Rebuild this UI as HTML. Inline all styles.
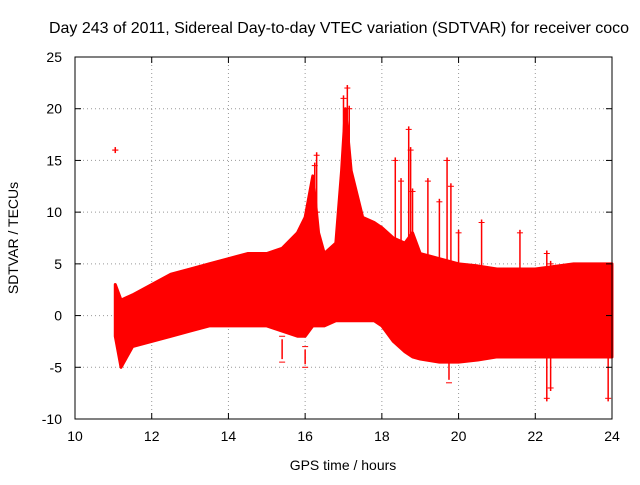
<!DOCTYPE html>
<html><head><meta charset="utf-8"><style>
body{margin:0;background:#fff}
svg text{font-family:"Liberation Sans",sans-serif;font-size:14px;fill:#000}
</style></head><body>
<svg width="640" height="480" id="c">
<text x="339" y="33" text-anchor="middle" style="font-size:16px">Day 243 of 2011, Sidereal Day-to-day VTEC variation (SDTVAR) for receiver coco</text>
<text x="343" y="470" text-anchor="middle">GPS time / hours</text>
<text transform="translate(18,238) rotate(-90)" text-anchor="middle">SDTVAR / TECUs</text>
<g id="grid"></g><g id="data"></g><g id="ticks"></g>
<rect x="75" y="57" width="537" height="362" fill="none" stroke="#000"/>
</svg>
<script>
const xTicks=[10,12,14,16,18,20,22,24];
const yTicks=[-10,-5,0,5,10,15,20,25];
const hours=[11.05,11.2,11.5,12,12.5,13,13.5,14,14.5,15,15.4,15.8,16,16.2,16.35,16.5,16.8,16.95,17.05,17.2,17.5,17.8,18,18.3,18.6,18.8,19,19.5,20,20.5,21,22,23,24];
const upper=[3,1.5,2,3,4,4.5,5,5.5,6,6,6.5,8,9.5,13.5,8,6,7,14,20,14,9.5,9,8.5,7.5,7,8,6,5.5,5,4.8,4.5,4.5,5,5];
const lower=[-2,-5,-3,-2.5,-2,-1.5,-1,-1,-1,-1,-1.5,-2,-2,-1,-1,-1,-0.5,-0.5,-0.5,-0.5,-0.5,-0.5,-1,-2.5,-3.5,-4,-4.2,-4.5,-4.5,-4.3,-4,-4,-4,-4];
const spikeX=[11.05,16.25,16.3,17.0,17.1,17.15,18.35,18.5,18.7,18.75,18.8,19.2,19.5,19.7,19.8,20.0,20.6,21.6,22.3,22.4,23.9,15.4,16.0,19.75];
const spikeTop=[16,14.5,15.5,21,22,20,15,13,18,16,12,13,11,15,12.5,8,9,8,6,5,4,-4.5,-5,-6.5];
const spikeBot=[16,9,10,12,14,13,6,6,6,7,6,5,4,5,5,3,1,-2,-8,-7,-8,-2,-3,-4];
const X=v=>75+(v-10)*537/14, Y=v=>419-(v+10)*362/35;
const ns="http://www.w3.org/2000/svg";
function mk(p,t,a){const e=document.createElementNS(ns,t);for(const k in a)e.setAttribute(k,a[k]);p.appendChild(e);return e;}
const g=document.getElementById('grid'),d=document.getElementById('data'),tk=document.getElementById('ticks');
xTicks.forEach(v=>{
 if(v>10&&v<24){const l=mk(g,'line',{x1:X(v),x2:X(v),y1:57,y2:419,stroke:'#999','stroke-dasharray':'1,3'});
 }
 const t=mk(tk,'text',{x:X(v),y:441,'text-anchor':'middle'});t.textContent=v;
 
 mk(tk,'line',{x1:X(v),x2:X(v),y1:419,y2:413,stroke:'#000'});mk(tk,'line',{x1:X(v),x2:X(v),y1:57,y2:63,stroke:'#000'});
});
yTicks.forEach(v=>{
 if(v>-10&&v<25){const l=mk(g,'line',{x1:75,x2:612,y1:Y(v),y2:Y(v),stroke:'#999','stroke-dasharray':'1,3'});
 }
 const t=mk(tk,'text',{x:62,y:Y(v)+5,'text-anchor':'end'});t.textContent=v;
 
 mk(tk,'line',{x1:75,x2:81,y1:Y(v),y2:Y(v),stroke:'#000'});mk(tk,'line',{x1:612,x2:606,y1:Y(v),y2:Y(v),stroke:'#000'});
});
let p='';hours.forEach((h,i)=>p+=(i?'L':'M')+X(h)+','+Y(upper[i]));
for(let i=hours.length-1;i>=0;i--)p+='L'+X(hours[i])+','+Y(lower[i]);
const env=mk(d,'path',{d:p+'Z',fill:'#f00',stroke:'#f00','stroke-width':3,'stroke-linejoin':'round'});

spikeX.forEach((h,i)=>{
 const s=mk(d,'g',{stroke:'#f00','stroke-width':1.5});
 
 mk(s,'line',{x1:X(h),x2:X(h),y1:Y(spikeTop[i])-3,y2:Y(spikeBot[i])+3});
 mk(s,'line',{x1:X(h)-3,x2:X(h)+3,y1:Y(spikeTop[i]),y2:Y(spikeTop[i]),'stroke-width':1});
 mk(s,'line',{x1:X(h)-3,x2:X(h)+3,y1:Y(spikeBot[i]),y2:Y(spikeBot[i]),'stroke-width':1});
});
</script>
</body></html>
